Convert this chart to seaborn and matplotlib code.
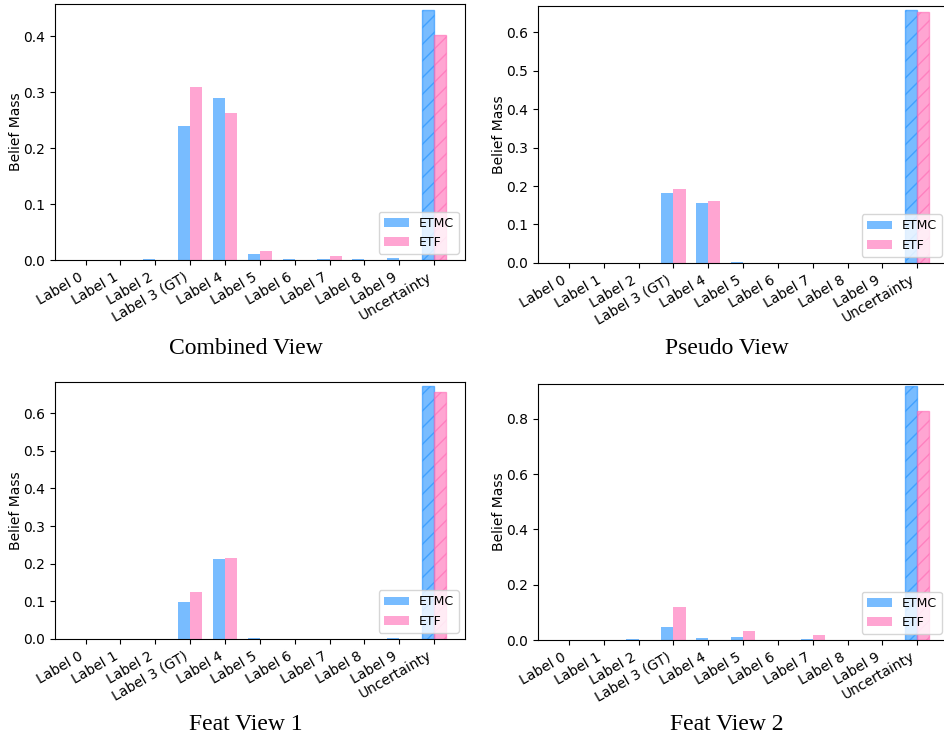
import matplotlib
matplotlib.use("Agg")
import matplotlib.pyplot as plt
import seaborn as sns
import pandas as pd

categories = ['Label 0', 'Label 1', 'Label 2', 'Label 3 (GT)', 'Label 4', 'Label 5',
              'Label 6', 'Label 7', 'Label 8', 'Label 9', 'Uncertainty']
methods = ['ETMC', 'ETF']

combined_etmc = [0.0, 0.0, 0.001, 0.239, 0.289, 0.011, 0.001, 0.001, 0.001, 0.003, 0.448]
combined_etf = [0.0, 0.0, 0.0, 0.309, 0.263, 0.016, 0.0, 0.007, 0.0, 0.0, 0.403]
pseudo_etmc = [0.0, 0.0, 0.0, 0.182, 0.157, 0.002, 0.0, 0.0, 0.0, 0.0, 0.657]
pseudo_etf = [0.0, 0.0, 0.0, 0.193, 0.160, 0.0, 0.0, 0.0, 0.0, 0.0, 0.651]
feat1_etmc = [0.0, 0.0, 0.0, 0.098, 0.212, 0.003, 0.0, 0.0, 0.0, 0.002, 0.672]
feat1_etf = [0.0, 0.0, 0.0, 0.125, 0.214, 0.0, 0.0, 0.0, 0.0, 0.0, 0.656]
feat2_etmc = [0.0, 0.0, 0.002, 0.046, 0.006, 0.011, 0.0, 0.002, 0.0, 0.0, 0.917]
feat2_etf = [0.0, 0.0, 0.0, 0.120, 0.0, 0.033, 0.0, 0.017, 0.0, 0.0, 0.829]

views = ['Combined View', 'Pseudo View', 'Feat View 1', 'Feat View 2']
view_data = [(combined_etmc, combined_etf), (pseudo_etmc, pseudo_etf),
             (feat1_etmc, feat1_etf), (feat2_etmc, feat2_etf)]

colors = {'ETMC': 'dodgerblue', 'ETF': 'hotpink'}

fig = plt.figure(figsize=(9.45, 7.4), dpi=100)
# axes boxes [left, bottom, width, height] and caption positions
boxes = [[0.058, 0.6486, 0.434, 0.346], [0.5693, 0.6446, 0.434, 0.347],
         [0.058, 0.1365, 0.434, 0.347], [0.5693, 0.1351, 0.434, 0.3464]]
captions = [(0.26, 0.5297), (0.769, 0.5297), (0.26, 0.0216), (0.769, 0.0216)]


def draw_view(ax, etmc, etf):
    df = pd.DataFrame({
        'label': categories * 2,
        'method': ['ETMC'] * len(categories) + ['ETF'] * len(categories),
        'mass': list(etmc) + list(etf),
    })
    sns.barplot(data=df, x='label', y='mass', hue='method', order=categories,
                hue_order=methods, palette=colors, saturation=1, width=0.7,
                gap=0, alpha=0.6, errorbar=None, ax=ax)
    # hatch the uncertainty bars
    for cont, m in zip(ax.containers, methods):
        bar = cont[-1]
        bar.set_hatch('//')
        bar.set_edgecolor(colors[m])
        bar.set_linewidth(1.0)
    # matplotlib-like default x margins instead of seaborn's tight ones
    n = len(categories)
    pad = 0.05 * (n - 1 + 0.7)
    ax.set_xlim(-0.35 - pad, n - 1 + 0.35 + pad)
    ax.set_ylim(0, max(max(etmc), max(etf)) + 0.01)
    ax.set_xlabel('')
    ax.set_ylabel('Belief Mass', fontsize=10, labelpad=0)
    ax.tick_params(labelsize=10)
    plt.setp(ax.get_xticklabels(), rotation=30, ha='right')
    ax.legend(loc='lower right', fontsize=9)


for box, (etmc, etf), name, (cx, cy) in zip(boxes, view_data, views, captions):
    ax = fig.add_axes(box)
    draw_view(ax, etmc, etf)
    fig.text(cx, cy, name, ha='center', va='center', fontsize=17,
             family='Liberation Serif')

fig.savefig('out.png', dpi=100)
